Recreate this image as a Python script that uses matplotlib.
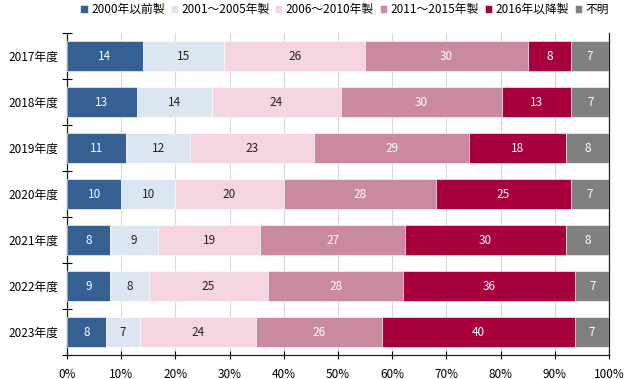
import matplotlib
matplotlib.use("Agg")
import matplotlib.pyplot as plt
import numpy as np

plt.rcParams['font.family'] = ['Noto Sans CJK JP', 'DejaVu Sans']

years = ["2017年度", "2018年度", "2019年度", "2020年度", "2021年度", "2022年度", "2023年度"]
series_names = ["2000年以前製", "2001～2005年製", "2006～2010年製", "2011～2015年製", "2016年以降製", "不明"]
s2000 = [14, 13, 11, 10, 8, 9, 8]
s2005 = [15, 14, 12, 10, 9, 8, 7]
s2010 = [26, 24, 23, 20, 19, 25, 24]
s2015 = [30, 30, 29, 28, 27, 28, 26]
s2016 = [8, 13, 18, 25, 30, 36, 40]
sunk = [7, 7, 8, 7, 8, 7, 7]

colors = ["#366092", "#dce6f2", "#f5d5e2", "#c98aa1", "#a8003f", "#808080"]
text_colors = ["white", "#222222", "#222222", "white", "white", "white"]

data = np.array([s2000, s2005, s2010, s2015, s2016, sunk], dtype=float)
totals = data.sum(axis=0)
norm = data / totals * 100

fig = plt.figure(figsize=(6.3, 3.79), dpi=100)
ax = fig.add_axes([67/630, 1 - 355/379, (609-67)/630, (355-33)/379])

y = np.arange(len(years))
left = np.zeros(len(years))
handles = []
for i in range(len(series_names)):
    bars = ax.barh(y, norm[i], left=left, height=0.67, color=colors[i],
                   edgecolor='white', linewidth=0.4, label=series_names[i], zorder=3)
    handles.append(bars)
    for j in range(len(years)):
        ax.text(left[j] + norm[i][j] / 2, y[j], str(int(data[i][j])),
                ha='center', va='center', fontsize=8.5, color=text_colors[i], zorder=4)
    left += norm[i]

ax.set_xlim(0, 100)
ax.set_ylim(len(years) - 0.5, -0.5)
ax.set_yticks(y)
ax.set_yticklabels(years, fontsize=8.5)
ax.set_yticks(np.arange(-0.5, len(years) + 0.5, 1), minor=True)
ax.tick_params(axis='y', which='major', length=0, pad=6)
ax.tick_params(axis='y', which='minor', length=7, direction='inout', width=0.8)
ax.set_xticks(np.arange(0, 101, 10))
ax.set_xticklabels([f"{v}%" for v in range(0, 101, 10)], fontsize=8.5)
ax.tick_params(axis='x', length=6, direction='inout', width=0.8, pad=6)
ax.grid(axis='x', color='#d9d9d9', linewidth=0.8, zorder=0)
ax.set_axisbelow(True)
ax.spines['top'].set_visible(False)
for s in ['left', 'bottom', 'right']:
    ax.spines[s].set_color('#222222')
    ax.spines[s].set_linewidth(0.9)

fig.legend(handles=handles, labels=series_names, loc='upper center', bbox_to_anchor=(0.547, 1.02),
           ncol=6, frameon=False, fontsize=8.5, handlelength=0.6, handleheight=0.6,
           handletextpad=0.3, columnspacing=0.5)

fig.savefig("out.png", dpi=100)
